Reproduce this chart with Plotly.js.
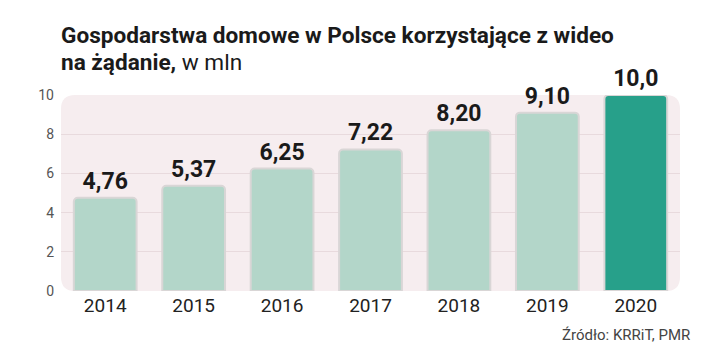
<!DOCTYPE html>
<html><head><meta charset="utf-8">
<script src="https://cdn.plot.ly/plotly-3.0.1.min.js"></script>
<style>body{margin:0;background:#fff}#c{width:720px;height:362px}</style>
</head><body><div id="c"></div>
<script>
const years = ['2014','2015','2016','2017','2018','2019','2020'];
const values = [4.76, 5.37, 6.25, 7.22, 8.20, 9.10, 10.0];
const labels = ['4,76','5,37','6,25','7,22','8,20','9,10','10,0'];
const yTicks = [0,2,4,6,8,10];
const titleLine1 = 'Gospodarstwa domowe w Polsce korzystające z wideo';
const titleLine2 = '<b>na żądanie,</b> w mln';
const source = 'Źródło: KRRiT, PMR';

const W = 720, H = 362;
const m = {l:61, r:40, t:95, b:71};
const pw = W - m.l - m.r, ph = H - m.t - m.b;
const rad = 14, rx = rad/pw, ry = rad/ph;
const bgPath = `M ${rx} 0 L ${1-rx} 0 Q 1 0 1 ${ry} L 1 ${1-ry} Q 1 1 ${1-rx} 1 L ${rx} 1 Q 0 1 0 ${1-ry} L 0 ${ry} Q 0 0 ${rx} 0 Z`;
const py = p => (H - m.b - p) / ph;   // pixel row -> paper y

const colors = years.map((y,i)=> i===years.length-1 ? '#27a08a' : '#b3d6c9');

const trace = {
  type:'bar', x: years, y: values, text: labels,
  textposition:'outside', cliponaxis:false,
  textfont:{family:'Roboto, sans-serif', size:23, color:'#1a1a1a', weight:700},
  marker:{color:colors, line:{color:'#d9d6d6', width:2}, cornerradius:4},
  width:0.71, hoverinfo:'skip'
};

const layout = {
  width:W, height:H, margin:m,
  paper_bgcolor:'#fff', plot_bgcolor:'rgba(0,0,0,0)',
  showlegend:false,
  font:{family:'Roboto, sans-serif'},
  xaxis:{type:'category', showgrid:false, zeroline:false, showline:false, ticks:'',
    tickfont:{family:'Roboto, sans-serif', size:19, color:'#222'}, ticklabelstandoff:1},
  yaxis:{range:[0,10], tickvals:yTicks, showgrid:true, gridcolor:'rgba(215,195,200,0.45)', gridwidth:1,
    zeroline:false, showline:false, ticks:'', tickfont:{family:'Roboto, sans-serif', size:14, color:'#555'}, ticklabelstandoff:6},
  shapes:[{type:'path', xref:'x domain', yref:'y domain', path:bgPath, fillcolor:'#f6edef', line:{width:0}, layer:'below'}],
  annotations:[
    {xref:'paper', yref:'paper', x:-0.003, y:py(45), xanchor:'left', yanchor:'bottom', yshift:-6, align:'left', showarrow:false,
     text:'<b>'+titleLine1+'</b>', font:{family:'Roboto, sans-serif', size:22.6, color:'#1a1a1a'}},
    {xref:'paper', yref:'paper', x:-0.003, y:py(72), xanchor:'left', yanchor:'bottom', yshift:-6, align:'left', showarrow:false,
     text:titleLine2, font:{family:'Roboto, sans-serif', size:22.6, color:'#1a1a1a'}},
    {xref:'paper', yref:'paper', x:(692-m.l)/pw, y:py(335), xanchor:'right', yanchor:'middle', showarrow:false,
     text:source, font:{family:'Roboto, sans-serif', size:15, color:'#444'}}
  ]
};
Plotly.newPlot('c',[trace],layout,{displayModeBar:false, staticPlot:true});
</script></body></html>
